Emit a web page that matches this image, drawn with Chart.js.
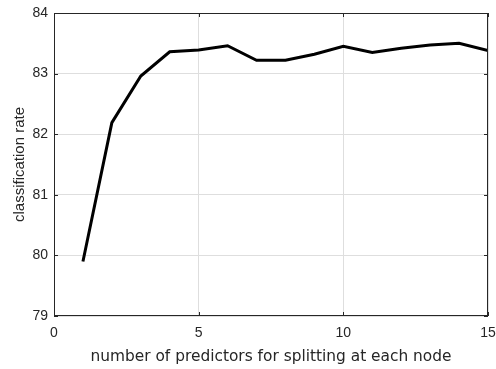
<!DOCTYPE html>
<html>
<head>
<meta charset="utf-8">
<script src="https://cdn.jsdelivr.net/npm/chart.js@4/dist/chart.umd.min.js"></script>
<style>
  html, body { margin: 0; padding: 0; background: #fff; }
  #wrap { width: 496px; height: 369px; }
</style>
</head>
<body>
<div id="wrap"><canvas id="rateChart" width="496" height="369"></canvas></div>
<script>
// values
const predictors = [1, 2, 3, 4, 5, 6, 7, 8, 9, 10, 11, 12, 13, 14, 15];
const rates = [79.9, 82.19, 82.96, 83.36, 83.39, 83.46, 83.22, 83.22, 83.32, 83.45, 83.35, 83.42, 83.47, 83.50, 83.38];
const xTicks = [0, 5, 10, 15];
const yTicks = [79, 80, 81, 82, 83, 84];

const axisColor = '#262626';

// matlab-style box + inward tick marks
const boxPlugin = {
  id: 'box',
  afterDraw(chart) {
    const { ctx, chartArea: a, scales } = chart;
    ctx.save();
    ctx.strokeStyle = axisColor;
    ctx.lineWidth = 1;
    ctx.strokeRect(a.left + 0.5, a.top + 0.5, a.right - a.left - 1, a.bottom - a.top - 1);
    ctx.beginPath();
    xTicks.forEach(v => {
      const px = Math.round(scales.x.getPixelForValue(v)) + 0.5;
      ctx.moveTo(px, a.bottom); ctx.lineTo(px, a.bottom - 4);
      ctx.moveTo(px, a.top); ctx.lineTo(px, a.top + 4);
    });
    yTicks.forEach(v => {
      const py = Math.round(scales.y.getPixelForValue(v)) + 0.5;
      ctx.moveTo(a.left, py); ctx.lineTo(a.left + 4, py);
      ctx.moveTo(a.right, py); ctx.lineTo(a.right - 4, py);
    });
    ctx.stroke();
    ctx.restore();
  }
};

new Chart(document.getElementById('rateChart'), {
  type: 'line',
  data: {
    datasets: [{
      data: predictors.map((p, i) => ({ x: p, y: rates[i] })),
      borderColor: '#000',
      borderWidth: 3,
      pointRadius: 0,
      tension: 0,
      fill: false
    }]
  },
  options: {
    responsive: false,
    animation: false,
    layout: { padding: { top: 13, right: 8, left: 0, bottom: 0 } },
    plugins: { legend: { display: false }, tooltip: { enabled: false } },
    scales: {
      x: {
        type: 'linear',
        min: 0, max: 15,
        afterBuildTicks: s => { s.ticks = xTicks.map(v => ({ value: v })); },
        afterFit: s => { s.height = 53; s.paddingRight = 0; s.paddingLeft = 0; },
        grid: { color: '#dedede', drawTicks: false },
        border: { display: false },
        ticks: { color: axisColor, font: { family: 'Liberation Sans', size: 14 }, padding: 9, maxRotation: 0 },
        title: {
          display: true,
          text: 'number of predictors for splitting at each node',
          color: axisColor,
          font: { family: 'DejaVu Sans', size: 15.4 },
          padding: { top: 4, bottom: 3 }
        }
      },
      y: {
        min: 79, max: 84,
        afterBuildTicks: s => { s.ticks = yTicks.map(v => ({ value: v })); },
        afterFit: s => { s.width = 54; s.paddingTop = 0; s.paddingBottom = 0; },
        grid: { color: '#dedede', drawTicks: false },
        border: { display: false },
        ticks: { color: axisColor, font: { family: 'Liberation Sans', size: 14 }, padding: 6 },
        title: {
          display: true,
          text: 'classification rate',
          color: axisColor,
          font: { family: 'Liberation Sans', size: 15 },
          padding: { top: 11, bottom: 2 }
        }
      }
    }
  },
  plugins: [boxPlugin]
});
</script>
</body>
</html>
